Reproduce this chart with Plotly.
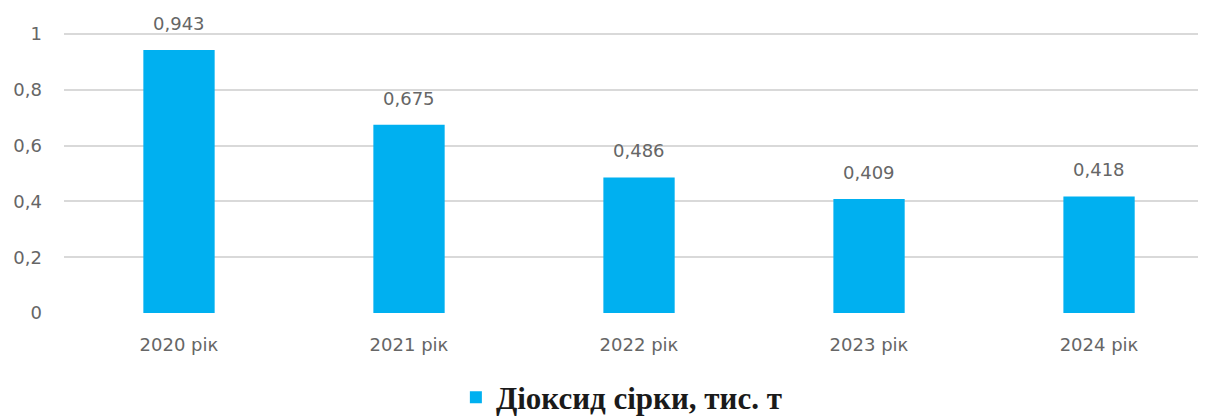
import plotly.graph_objects as go

categories = ["2020 рік", "2021 рік", "2022 рік", "2023 рік", "2024 рік"]
values = [0.943, 0.675, 0.486, 0.409, 0.418]
labels = ["0,943", "0,675", "0,486", "0,409", "0,418"]
series_name = "Діоксид сірки, тис. т"
y_ticks = [0, 0.2, 0.4, 0.6, 0.8, 1]
y_tick_text = ["0", "0,2", "0,4", "0,6", "0,8", "1"]

# page has an 8px body margin, so the figure is sized to fit the window
W, H = 1198, 408
L, R, T, B = 56, 0, 0, 103

fig = go.Figure()
fig.add_trace(go.Bar(
    x=list(range(len(categories))), y=values, name=series_name,
    marker=dict(color="#00B0F0", line=dict(width=0)),
    width=0.31, showlegend=True,
))

for i, (v, t) in enumerate(zip(values, labels)):
    fig.add_annotation(x=i, y=v, text=t, showarrow=False, yanchor="bottom",
                       yshift=14, font=dict(family="DejaVu Sans", size=18, color="#666666"))

fig.update_layout(
    width=W, height=H,
    margin=dict(l=L, r=R, t=T, b=B, pad=0, autoexpand=False),
    paper_bgcolor="white", plot_bgcolor="white",
    separators=", ",
    xaxis=dict(
        tickmode="array", tickvals=list(range(len(categories))), ticktext=categories,
        range=[-0.5, 4.465], showgrid=False, zeroline=False, showline=False,
        ticks="", tickfont=dict(family="DejaVu Sans", size=18, color="#666666"),
        ticklabelstandoff=19, automargin=False,
    ),
    yaxis=dict(
        range=[0, 1.0932], tickmode="array", tickvals=y_ticks, ticktext=y_tick_text,
        showgrid=True, gridcolor="#D9D9D9", gridwidth=1.6, zeroline=False,
        showline=False, ticks="",
        tickfont=dict(family="DejaVu Sans", size=18, color="#666666"),
        ticklabelstandoff=21, automargin=False,
    ),
    showlegend=True,
    legend=dict(
        orientation="h", x=0.512, xanchor="center", xref="container",
        y=0.045, yanchor="middle", yref="container",
        font=dict(family="Liberation Serif", size=31, color="#1a1a1a", weight="bold"),
        bgcolor="rgba(0,0,0,0)", itemwidth=30,
    ),
)

fig.write_html("out.html")
